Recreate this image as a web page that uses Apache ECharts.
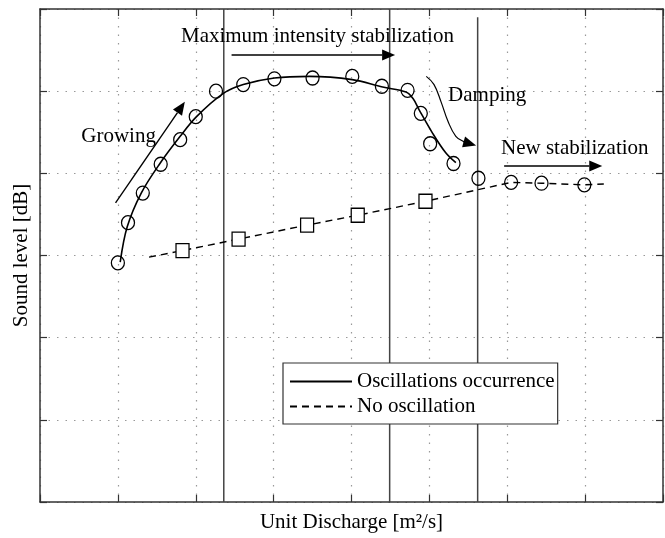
<!DOCTYPE html>
<html><head><meta charset="utf-8">
<script src="https://cdn.jsdelivr.net/npm/echarts@6/dist/echarts.min.js"></script>
<style>html,body{margin:0;padding:0;background:#fff}#c{width:665px;height:538px}</style>
</head><body><div id="c"></div>
<script>
// ---- data (axis units: x 0..8, y 0..6, no tick labels in source) ----
const xRange = [0, 8];
const yRange = [0, 6];
const seriesNames = ['Oscillations occurrence', 'No oscillation'];
// measured points, oscillation case (circles)
const oscPoints = [[1.00,2.91],[1.13,3.40],[1.32,3.76],[1.55,4.11],[1.80,4.41],[2.00,4.69],[2.26,5.00],[2.61,5.08],[3.01,5.15],[3.50,5.16],[4.01,5.18],[4.39,5.06],[4.72,5.01],[4.89,4.73],[5.01,4.36],[5.31,4.12]];
// fitted trend of oscillation case
const oscFit = [[1.03,2.92],[1.12,3.35],[1.30,3.76],[1.54,4.12],[1.80,4.45],[2.01,4.69],[2.35,4.97],[2.61,5.08],[3.01,5.16],[3.46,5.18],[4.01,5.14],[4.40,5.05],[4.70,4.99],[4.79,4.91],[4.87,4.77],[5.04,4.49],[5.21,4.25],[5.34,4.13]];
// circles after damping (new stabilization)
const stabPoints = [[5.63,3.94],[6.05,3.89],[6.44,3.88],[6.99,3.86]];
// no-oscillation case (squares) and its dashed trend
const noOscPoints = [[1.83,3.06],[2.55,3.20],[3.43,3.37],[4.08,3.49],[4.95,3.66]];
const noOscLine = [[1.40,2.98],[1.83,3.06],[2.55,3.20],[3.43,3.37],[4.08,3.49],[4.95,3.66],[6.05,3.89],[6.44,3.88],[6.99,3.86],[7.24,3.87]];
// phase boundaries (vertical lines): x and upper end
const phaseX = [2.36, 4.49, 5.62];
const phaseTop = [6, 6, 5.90];
// annotations (data coordinates)
const arrowSegs = [[2.46,5.44,4.56,5.44],[0.97,3.64,1.86,4.87],[5.96,4.09,7.22,4.09]];
const dampPath = [[4.96,5.18],[5.06,5.08],[5.15,4.87],[5.24,4.63],[5.34,4.45],[5.45,4.38],[5.60,4.34]];
const noteTexts = ['Maximum intensity stabilization','Growing','Damping','New stabilization'];
const notePos = [[1.81,5.66],[0.53,4.45],[5.24,4.95],[5.92,4.30]];

const FONT = 'Liberation Serif';
const chart = echarts.init(document.getElementById('c'), null, {renderer:'canvas'});

function arrowHead(p, q, len, half) {
  const dx = q[0]-p[0], dy = q[1]-p[1];
  const L = Math.sqrt(dx*dx+dy*dy) || 1;
  const ux = dx/L, uy = dy/L;
  const bx = q[0]-ux*len, by = q[1]-uy*len;
  return {base:[bx,by], pts:[[q[0],q[1]],[bx-uy*half, by+ux*half],[bx+uy*half, by-ux*half]]};
}

const axisCommon = {
  type:'value', axisLabel:{show:false},
  axisLine:{show:true, onZero:false, lineStyle:{color:'#333', width:1.5}},
  axisTick:{show:true, inside:true, length:7, lineStyle:{color:'#333', width:1.2}},
};

const series = [];
phaseX.forEach((x,i)=>{
  series.push({type:'line', silent:true, symbol:'none', z:1, data:[[x,yRange[0]],[x,phaseTop[i]]],
    lineStyle:{color:'#444', width:1.5}});
});
series.push({name:seriesNames[0], type:'line', data:oscFit, smooth:0.35, symbol:'none', z:3,
  lineStyle:{color:'#000', width:1.6}, itemStyle:{color:'#000'}});
series.push({name:seriesNames[1], type:'line', data:noOscLine, symbol:'none', z:3,
  lineStyle:{color:'#000', width:1.4, type:[7,5]}, itemStyle:{color:'#000'}});
series.push({type:'scatter', data:oscPoints.concat(stabPoints), symbol:'circle', symbolSize:[13,14], z:4, silent:true,
  itemStyle:{color:'rgba(0,0,0,0)', borderColor:'#000', borderWidth:1.3, opacity:1}});
series.push({type:'scatter', data:noOscPoints, symbol:'rect', symbolSize:[13,14], z:4, silent:true,
  itemStyle:{color:'#fff', borderColor:'#000', borderWidth:1.3, opacity:1}});
// straight arrows
series.push({type:'custom', silent:true, z:5, data:arrowSegs, encode:{x:[0,2], y:[1,3]},
  renderItem:(params, api)=>{
    const p = api.coord([api.value(0), api.value(1)]);
    const q = api.coord([api.value(2), api.value(3)]);
    const h = arrowHead(p, q, 13, 5.5);
    return {type:'group', children:[
      {type:'line', shape:{x1:p[0],y1:p[1],x2:h.base[0],y2:h.base[1]}, style:{stroke:'#000', lineWidth:1.4}},
      {type:'polygon', shape:{points:h.pts}, style:{fill:'#000'}}
    ]};
  }});
// curved damping arrow
series.push({type:'custom', silent:true, z:5, data:[dampPath[0]],
  renderItem:(params, api)=>{
    const pts = dampPath.map(d=>api.coord(d));
    const q = pts[pts.length-1], p = pts[pts.length-2];
    const h = arrowHead(p, q, 13, 5.5);
    const line = pts.slice(0,-1).concat([h.base]);
    return {type:'group', children:[
      {type:'polyline', shape:{points:line, smooth:0.4}, style:{stroke:'#000', lineWidth:1.2, fill:null}},
      {type:'polygon', shape:{points:h.pts}, style:{fill:'#000'}}
    ]};
  }});
// annotation texts
series.push({type:'scatter', silent:true, z:6, symbolSize:0, itemStyle:{opacity:1},
  data:notePos.map((p,i)=>({value:p, name:noteTexts[i]})),
  label:{show:true, position:'right', distance:0, formatter:'{b}', fontFamily:FONT, fontSize:21, color:'#000', opacity:1},
  labelLayout:{hideOverlap:false}});

chart.setOption({
  animation:false,
  backgroundColor:'#fff',
  textStyle:{fontFamily:FONT},
  grid:{left:40, right:2, top:9, bottom:36, containLabel:false},
  legend:{
    orient:'vertical', left:283, top:363, padding:[6,3,5,6], itemWidth:62, itemHeight:14, itemGap:0,
    backgroundColor:'#fff', borderColor:'#333', borderWidth:1.2, borderRadius:0,
    itemStyle:{color:'rgba(0,0,0,0)', borderColor:'rgba(0,0,0,0)', borderWidth:0},
    textStyle:{fontFamily:FONT, fontSize:21, color:'#000', lineHeight:25},
    data:seriesNames, selectedMode:false
  },
  xAxis:[
    Object.assign({}, axisCommon, {position:'bottom', min:xRange[0], max:xRange[1], interval:1,
      name:'Unit Discharge [m²/s]', nameLocation:'middle', nameGap:10,
      nameTextStyle:{fontFamily:FONT, fontSize:21, color:'#000'},
      splitLine:{show:true, lineStyle:{color:'#999', width:1.2, type:[1.5,7]}}}),
    Object.assign({}, axisCommon, {position:'top', min:xRange[0], max:xRange[1], interval:1, splitLine:{show:false}})
  ],
  yAxis:[
    Object.assign({}, axisCommon, {position:'left', min:yRange[0], max:yRange[1], interval:1,
      name:'Sound level [dB]', nameLocation:'middle', nameGap:8,
      nameTextStyle:{fontFamily:FONT, fontSize:21, color:'#000'},
      splitLine:{show:true, lineStyle:{color:'#999', width:1.2, type:[1.5,7]}}}),
    Object.assign({}, axisCommon, {position:'right', min:yRange[0], max:yRange[1], interval:1, splitLine:{show:false}})
  ],
  series: series
});
</script></body></html>
